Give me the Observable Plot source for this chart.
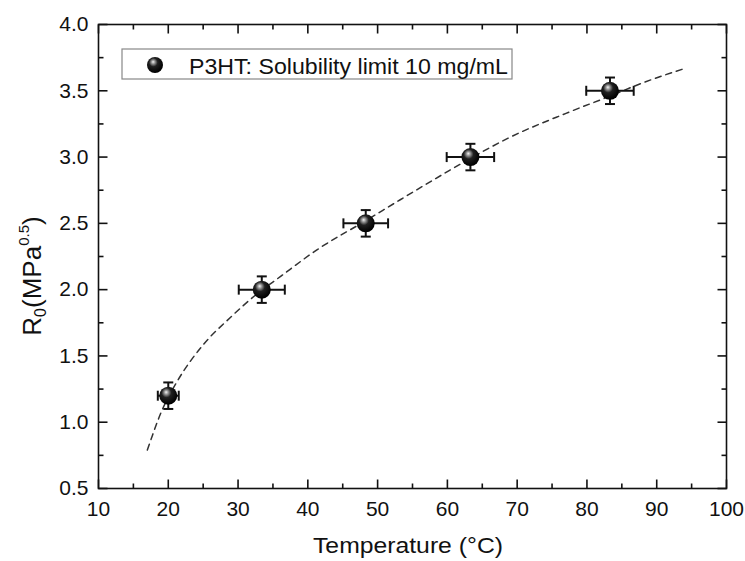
<!DOCTYPE html>
<html><head><meta charset="utf-8">
<script src="https://cdn.jsdelivr.net/npm/d3@7"></script>
<script src="https://cdn.jsdelivr.net/npm/@observablehq/plot@0.6"></script>
<style>body{margin:0;background:#fff;} #chart svg{display:block;}</style>
</head><body><div id="chart"></div>
<script>
// data
const temps = [20.0, 33.4, 48.3, 63.3, 83.3];
const r0 = [1.2, 2.0, 2.5, 3.0, 3.5];
const tempErr = [1.5, 3.3, 3.2, 3.4, 3.4];
const r0Err = [0.1, 0.1, 0.1, 0.1, 0.1];
const fitT = [17.0, 19.1, 21.3, 25.1, 28.9, 32.3, 36.1, 41.3, 48.3, 53.3, 60.0, 63.3, 69.0, 77.0, 83.3, 88.0, 94.1];
const fitR = [0.79, 1.09, 1.31, 1.59, 1.79, 1.95, 2.10, 2.30, 2.52, 2.68, 2.89, 2.99, 3.15, 3.33, 3.46, 3.56, 3.67];
const xMajor = [10, 20, 30, 40, 50, 60, 70, 80, 90, 100];
const xMinor = [15, 25, 35, 45, 55, 65, 75, 85, 95];
const yMajor = [0.5, 1.0, 1.5, 2.0, 2.5, 3.0, 3.5, 4.0];
const yMinor = [0.75, 1.25, 1.75, 2.25, 2.75, 3.25, 3.75];
const legendLabel = "P3HT: Solubility limit 10 mg/mL";
const xTitle = "Temperature (°C)";

const pts = temps.map((t, i) => ({t, r: r0[i], te: tempErr[i], re: r0Err[i]}));
const fit = fitT.map((t, i) => ({t, r: fitR[i]}));
const xDom = [xMajor[0], xMajor[xMajor.length - 1]];
const yDom = [yMajor[0], yMajor[yMajor.length - 1]];

const sym = (f) => ({draw(ctx, size) { const r = Math.sqrt(size / Math.PI); f(ctx, r); }});
const tickUp = sym((c, r) => { c.moveTo(0, 0); c.lineTo(0, -r); });
const tickDown = sym((c, r) => { c.moveTo(0, 0); c.lineTo(0, r); });
const tickRight = sym((c, r) => { c.moveTo(0, 0); c.lineTo(r, 0); });
const tickLeft = sym((c, r) => { c.moveTo(0, 0); c.lineTo(-r, 0); });
const capH = sym((c, r) => { c.moveTo(-r, 0); c.lineTo(r, 0); });
const capV = sym((c, r) => { c.moveTo(0, -r); c.lineTo(0, r); });

const tk = (data, x, y, symbol, r) => Plot.dot(data, {x, y, symbol, r, fill: "none", stroke: "#111", strokeWidth: 1.6});

const chart = Plot.plot({
  width: 745,
  height: 561,
  marginLeft: 98,
  marginRight: 19,
  marginTop: 24,
  marginBottom: 73,
  style: {fontFamily: "'Liberation Sans', Arial, sans-serif", fontSize: "21px", background: "#fff", color: "#111"},
  x: {domain: xDom, label: null},
  y: {domain: yDom, label: null},
  marks: [
    Plot.axisX(xMajor, {tickSize: 0, tickPadding: 13, fontSize: 21, label: null, tickFormat: d3.format("d")}),
    Plot.axisY(yMajor, {tickSize: 0, tickPadding: 10, fontSize: 21, label: null, tickFormat: d3.format(".1f")}),
    // inward ticks on all four sides
    tk(xMajor, d => d, () => yDom[0], tickUp, 9),
    tk(xMinor, d => d, () => yDom[0], tickUp, 5),
    tk(xMajor, d => d, () => yDom[1], tickDown, 9),
    tk(xMinor, d => d, () => yDom[1], tickDown, 5),
    tk(yMajor, () => xDom[0], d => d, tickRight, 9),
    tk(yMinor, () => xDom[0], d => d, tickRight, 5),
    tk(yMajor, () => xDom[1], d => d, tickLeft, 9),
    tk(yMinor, () => xDom[1], d => d, tickLeft, 5),
    Plot.frame({stroke: "#111", strokeWidth: 1.6}),
    Plot.line(fit, {x: "t", y: "r", curve: "monotone-x", stroke: "#333", strokeWidth: 1.5, strokeDasharray: "6,5"}),
    // error bars
    Plot.ruleY(pts, {y: "r", x1: d => d.t - d.te, x2: d => d.t + d.te, stroke: "#111", strokeWidth: 2}),
    Plot.ruleX(pts, {x: "t", y1: d => d.r - d.re, y2: d => d.r + d.re, stroke: "#111", strokeWidth: 2}),
    Plot.dot(pts, {x: d => d.t - d.te, y: "r", symbol: capV, r: 5, fill: "none", stroke: "#111", strokeWidth: 2}),
    Plot.dot(pts, {x: d => d.t + d.te, y: "r", symbol: capV, r: 5, fill: "none", stroke: "#111", strokeWidth: 2}),
    Plot.dot(pts, {x: "t", y: d => d.r - d.re, symbol: capH, r: 5, fill: "none", stroke: "#111", strokeWidth: 2}),
    Plot.dot(pts, {x: "t", y: d => d.r + d.re, symbol: capH, r: 5, fill: "none", stroke: "#111", strokeWidth: 2}),
    Plot.dot(pts, {x: "t", y: "r", r: 9, fill: "url(#sphere)", stroke: "none"})
  ]
});

const svg = d3.select(chart);
const defs = svg.insert("defs", ":first-child");
const g = defs.append("radialGradient").attr("id", "sphere").attr("cx", "42%").attr("cy", "38%").attr("r", "60%").attr("fx", "38%").attr("fy", "30%");
g.append("stop").attr("offset", "0%").attr("stop-color", "#f4f4f4");
g.append("stop").attr("offset", "18%").attr("stop-color", "#9a9a9a");
g.append("stop").attr("offset", "45%").attr("stop-color", "#202020");
g.append("stop").attr("offset", "100%").attr("stop-color", "#000");

// legend
const lg = svg.append("g").attr("text-anchor", "start");
lg.append("rect").attr("x", 122).attr("y", 49).attr("width", 390).attr("height", 30).attr("fill", "#fff").attr("stroke", "#888").attr("stroke-width", 1.2);
lg.append("circle").attr("cx", 155).attr("cy", 65).attr("r", 8).attr("fill", "url(#sphere)");
lg.append("text").attr("x", 189).attr("y", 74).attr("font-size", 22).attr("fill", "#111")
  .attr("textLength", 319).attr("lengthAdjust", "spacingAndGlyphs").text(legendLabel);

// axis titles
svg.append("text").attr("x", 408).attr("y", 553).attr("text-anchor", "middle").attr("font-size", 21.5).attr("fill", "#111")
  .attr("textLength", 190).attr("lengthAdjust", "spacingAndGlyphs").text(xTitle);
const yt = svg.append("text").attr("transform", "translate(40.5,276) rotate(-90)").attr("text-anchor", "middle").attr("font-size", 26).attr("fill", "#111");
yt.append("tspan").text("R");
yt.append("tspan").attr("dy", 5).attr("font-size", 16).text("0");
yt.append("tspan").attr("dy", -5).text("(MPa");
yt.append("tspan").attr("dy", -12).attr("font-size", 15).text("0.5");
yt.append("tspan").attr("dy", 12).text(")");

document.getElementById("chart").appendChild(chart);
</script>
</body></html>
